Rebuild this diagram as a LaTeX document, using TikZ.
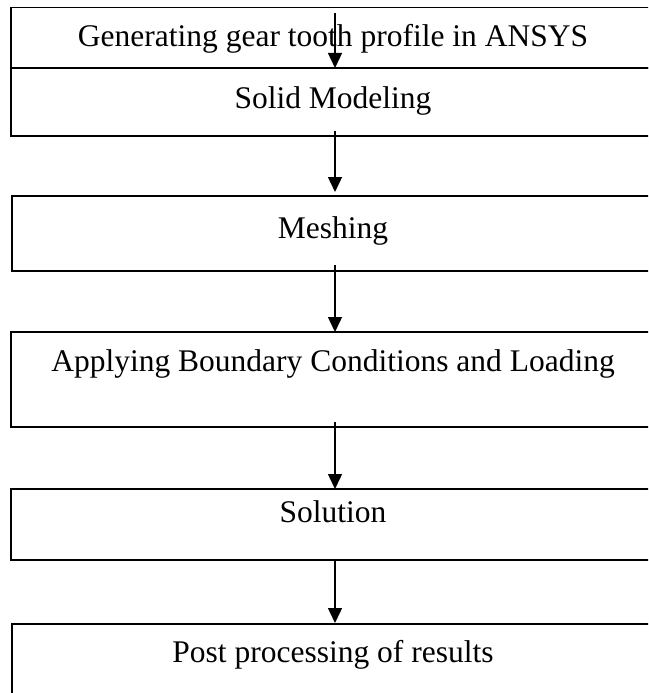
\documentclass[tikz,border=0pt]{standalone}
\usepackage{fontspec}
\setmainfont{Liberation Serif}
\usetikzlibrary{arrows.meta,calc}
\begin{document}
\begin{tikzpicture}[x=1pt,y=-1pt,
  stepbox/.style={draw, line width=1.8pt, minimum width=645pt, anchor=north west, inner sep=0pt, outer sep=0pt},
  lbl/.style={anchor=base, font=\fontsize{31.5}{36}\selectfont, inner sep=0pt},
  arr/.style={line width=1.4pt, -{Triangle[width=14pt,length=15pt]}}]
\clip (0,0) rectangle (648,693);
\fill[white] (0,0) rectangle (648,693);
\coordinate (ax) at (335,0);
\node[stepbox, minimum height=60.5pt] (b1) at (11,7.5) {};
\node[stepbox, minimum height=68pt] (b2) at (11,68) {};
\node[stepbox, minimum height=75pt] (b3) at (12,196) {};
\node[stepbox, minimum height=95pt] (b4) at (11,332) {};
\node[stepbox, minimum height=71pt] (b5) at (11,489) {};
\node[stepbox, minimum height=176pt] (b6) at (12,624) {};
\node[lbl] (t1) at (333,47) {Generating gear tooth profile in ANSYS};
\node[lbl] (t2) at (333,108) {Solid Modeling};
\node[lbl] (t3) at (333,238) {Meshing};
\node[lbl] (t4) at (333,371) {Applying Boundary Conditions and Loading};
\node[lbl] (t5) at (333,522) {Solution};
\node[lbl] (t6) at (333,662) {Post processing of results};
\draw[arr] ($(b1.north -| ax)+(0,5.5)$) -- (b1.south -| ax);
\draw[arr] ($(b2.south -| ax)+(0,-5)$) -- ($(b3.north -| ax)+(0,-4)$);
\draw[arr] ($(b3.south -| ax)+(0,-6)$) -- (b4.north -| ax);
\draw[arr] ($(b4.south -| ax)+(0,-5)$) -- (b5.north -| ax);
\draw[arr] (b5.south -| ax) -- ($(b6.north -| ax)+(0,-1)$);
\end{tikzpicture}
\end{document}
